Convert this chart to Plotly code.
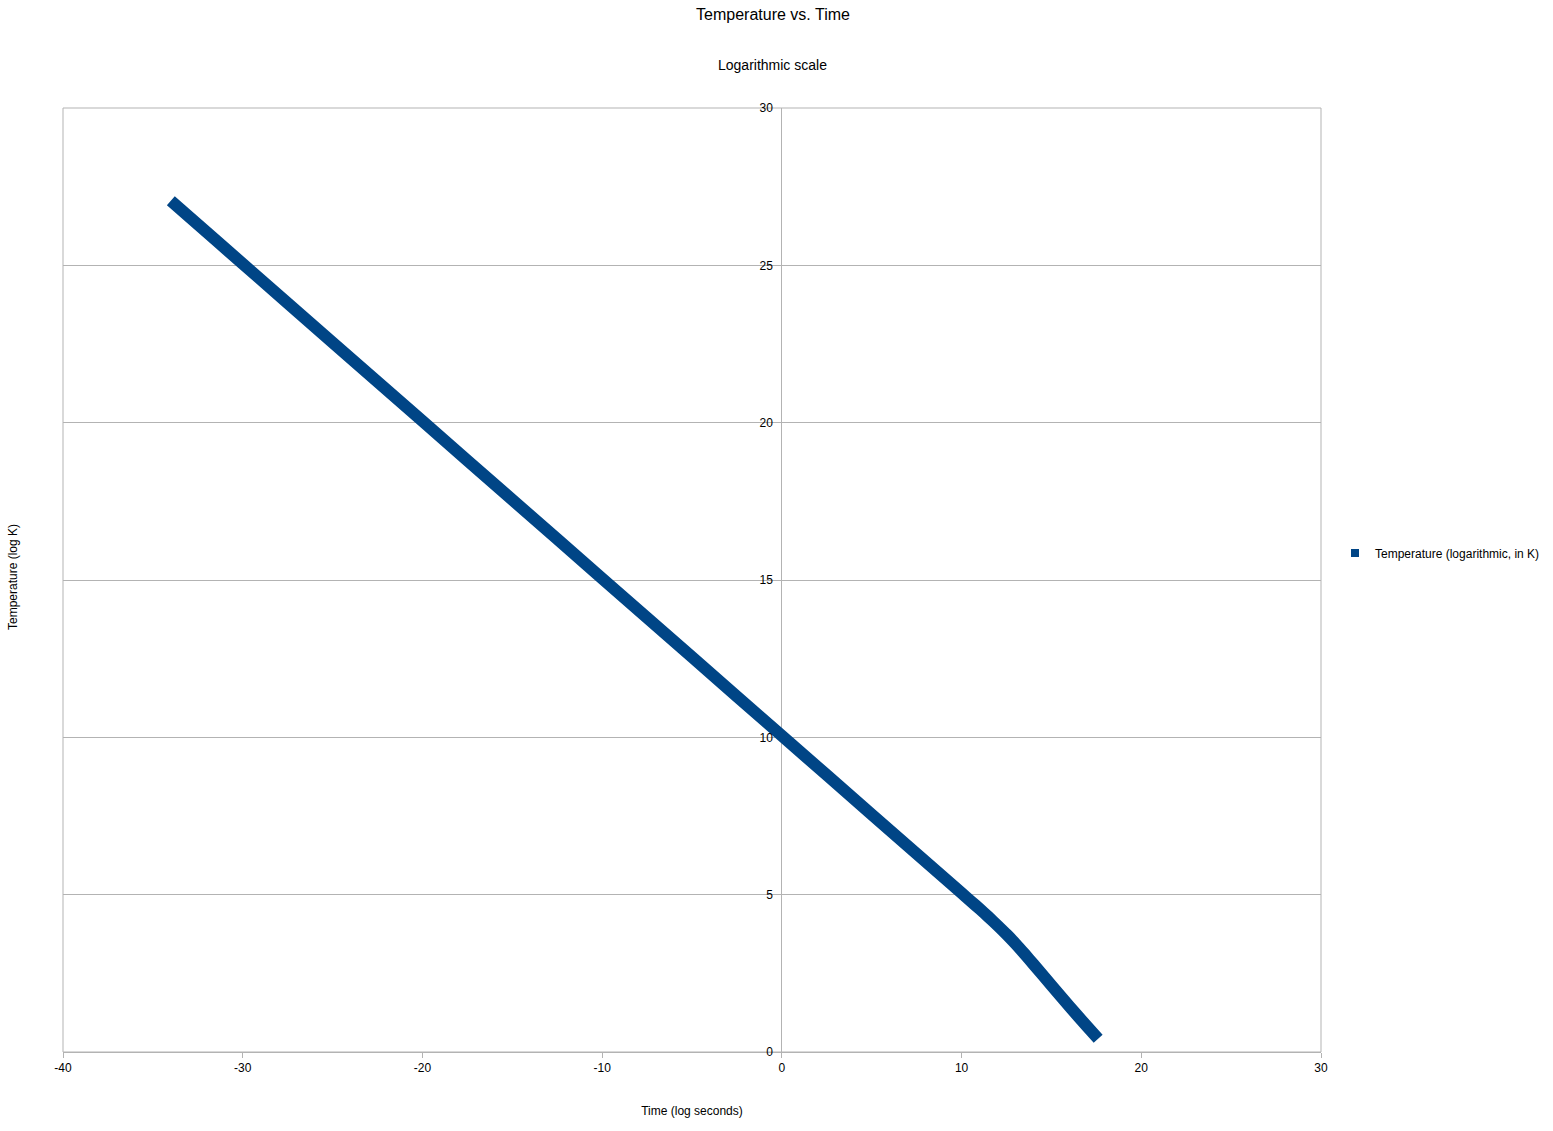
import plotly.graph_objects as go

# Data
time_log = [-34.0, -33.0, -30.0, -25.0, -20.0, -15.0, -10.0, -5.0, 0.0, 5.0, 10.0, 10.5, 11.0, 11.5, 12.0, 12.5, 13.0, 13.5, 14.0, 15.0, 16.0, 17.0, 17.6]
temp_log = [27.05, 26.55, 25.05, 22.55, 20.05, 17.55, 15.05, 12.55, 10.05, 7.55, 5.05, 4.8, 4.55, 4.29, 4.02, 3.74, 3.44, 3.12, 2.79, 2.12, 1.45, 0.8, 0.42]
series_name = "Temperature (logarithmic, in K)"
x_ticks = [-40, -30, -20, -10, 0, 10, 20, 30]
y_ticks = [0, 5, 10, 15, 20, 25, 30]

LINE_COLOR = "#004586"
GRID = "#b3b3b3"
FONT = "Liberation Sans, Arial, sans-serif"

W, H = 1553, 1131
L, T, R, B = 63, 108, 232, 79

fig = go.Figure()
fig.add_trace(go.Scatter(
    x=time_log, y=temp_log, mode="lines",
    line=dict(color=LINE_COLOR, width=12, simplify=False, shape="spline", smoothing=0.5),
    showlegend=False, hoverinfo="x+y",
))
# legend entry (square symbol like the reference)
fig.add_trace(go.Scatter(
    x=[None], y=[None], mode="markers", name=series_name,
    marker=dict(symbol="square", size=8, color=LINE_COLOR),
    showlegend=True,
))

fig.update_layout(
    width=W, height=H,
    margin=dict(l=L, r=R, t=T, b=B, autoexpand=False),
    paper_bgcolor="white", plot_bgcolor="white",
    font=dict(family=FONT, size=12, color="black"),
    title=dict(text="Temperature vs. Time", x=773 / W, xanchor="center",
               y=1 - 14 / H, yanchor="middle", yref="container",
               font=dict(size=16, color="black", family=FONT)),
    xaxis=dict(
        range=[-40, 30], tickvals=x_ticks, ticktext=[str(v) for v in x_ticks],
        showgrid=False, zeroline=True, zerolinecolor=GRID, zerolinewidth=1,
        showline=True, linecolor=GRID, linewidth=1,
        ticks="outside", ticklen=5, tickcolor=GRID,
        tickfont=dict(size=12, color="black"),
        title=dict(text="Time (log seconds)", font=dict(size=12), standoff=32),
    ),
    yaxis=dict(
        range=[0, 30], tickvals=y_ticks, ticktext=[str(v) for v in y_ticks],
        showgrid=True, gridcolor=GRID, gridwidth=1, zeroline=False,
        showline=False, ticks="", anchor="free", position=40 / 70,
        ticklabelstandoff=9,
        tickfont=dict(size=12, color="black"),
    ),
    legend=dict(x=(1335 - L) / 1258, y=(1052 - 553) / 944, xanchor="left", yanchor="middle",
                font=dict(size=12, color="black"), itemwidth=30,
                bgcolor="rgba(0,0,0,0)"),
    showlegend=True,
    shapes=[dict(type="rect", xref="paper", yref="paper", x0=0, x1=1, y0=0, y1=1,
                 line=dict(color=GRID, width=1), fillcolor="rgba(0,0,0,0)", layer="below")],
    annotations=[
        dict(text="Logarithmic scale", xref="paper", yref="paper",
             x=(772 - L) / 1258, y=(1052 - 65) / 944, showarrow=False,
             xanchor="center", yanchor="middle", font=dict(size=14, color="black")),
        dict(text="Temperature (log K)", xref="paper", yref="paper",
             x=(13 - L) / 1258, y=(1052 - 577) / 944, showarrow=False, textangle=-90,
             xanchor="center", yanchor="middle", font=dict(size=12, color="black")),
    ],
)

fig.write_html("out.html", config={"displayModeBar": False},
               post_script="document.body.style.margin='0';document.body.style.padding='0';")
